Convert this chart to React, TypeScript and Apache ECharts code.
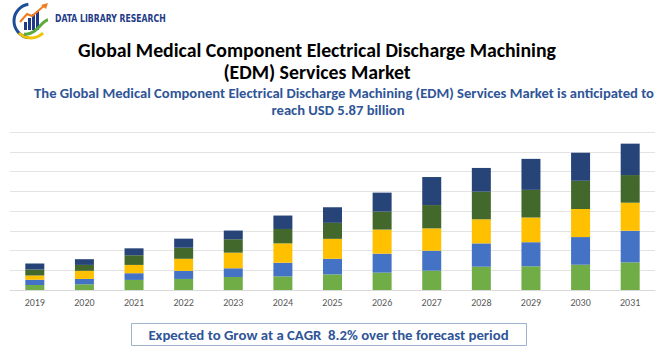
import React, { useEffect, useRef } from "react";
import * as echarts from "echarts";

const years = ["2019","2020","2021","2022","2023","2024","2025","2026","2027","2028","2029","2030","2031"];
const seg1 = [0.25,0.29,0.51,0.56,0.66,0.69,0.79,0.88,0.98,1.18,1.20,1.28,1.40];
const seg2 = [0.27,0.27,0.34,0.41,0.44,0.69,0.79,0.96,1.01,1.18,1.22,1.40,1.60];
const seg3 = [0.22,0.41,0.42,0.61,0.79,0.98,1.01,1.22,1.13,1.22,1.25,1.42,1.42];
const seg4 = [0.30,0.30,0.49,0.56,0.68,0.73,0.81,0.91,1.18,1.40,1.40,1.43,1.40];
const seg5 = [0.30,0.29,0.35,0.46,0.44,0.68,0.79,0.96,1.42,1.20,1.57,1.42,1.59];
const segColors = ["#70AD47","#4472C4","#FFC000","#43682B","#264478"];

const titleLines = ["Global Medical Component Electrical Discharge Machining", "(EDM) Services Market"];
const subtitleLines = ["The Global Medical Component Electrical Discharge Machining (EDM) Services Market is anticipated to", "reach USD 5.87 billion"];
const footerText = "Expected to Grow at a CAGR  8.2% over the forecast period";
const brandText = "DATA LIBRARY RESEARCH";

const FONT = "Carlito, Lato, 'Open Sans', sans-serif";

export default function App() {
  const ref = useRef<HTMLDivElement>(null);
  useEffect(() => {
    if (!ref.current) return;
    const chart = echarts.init(ref.current, null, { renderer: "svg" });
    const segs = [seg1, seg2, seg3, seg4, seg5];
    const series = segs.map((d, i) => ({
      type: "bar",
      stack: "total",
      data: d,
      barWidth: 19,
      itemStyle: { color: segColors[i] },
      emphasis: { disabled: true },
    }));
    chart.setOption({
      animation: false,
      grid: { left: 10, right: 15, top: 132, bottom: 60, containLabel: false },
      xAxis: {
        type: "category",
        data: years,
        axisLine: { show: true, lineStyle: { color: "#D9D9D9", width: 1 } },
        axisTick: { show: false },
        axisLabel: { color: "#595959", fontSize: 10, margin: 7, fontFamily: FONT },
      },
      yAxis: {
        type: "value",
        min: 0,
        max: 8,
        interval: 1,
        axisLabel: { show: false },
        axisLine: { show: false },
        axisTick: { show: false },
        splitLine: { lineStyle: { color: "#E3E3E3", width: 1 } },
      },
      series,
      graphic: [
        // logo
        { type: "arc", shape: { cx: 31, cy: 21, r: 17, startAngle: Math.PI * 0.55, endAngle: Math.PI * 1.45 }, style: { stroke: "#1F4E99", lineWidth: 3, fill: "none" } },
        { type: "arc", shape: { cx: 31, cy: 21, r: 17, startAngle: Math.PI * 0.25, endAngle: Math.PI * 0.75 }, style: { stroke: "#F2C200", lineWidth: 3, fill: "none" } },
        { type: "rect", shape: { x: 24, y: 22, width: 3, height: 8 }, style: { fill: "#1F3C88" } },
        { type: "rect", shape: { x: 28, y: 18, width: 3, height: 12 }, style: { fill: "#1F3C88" } },
        { type: "rect", shape: { x: 32, y: 14, width: 3, height: 16 }, style: { fill: "#1F3C88" } },
        { type: "rect", shape: { x: 36, y: 11, width: 3, height: 19 }, style: { fill: "#1F3C88" } },
        { type: "polyline", shape: { points: [[20, 22], [27, 14], [32, 16], [45, 5]] }, style: { stroke: "#F07C22", lineWidth: 2, fill: "none" } },
        { type: "polygon", shape: { points: [[48, 3], [41, 5], [46, 9]] }, style: { fill: "#F07C22" } },
        { type: "bezierCurve", shape: { x1: 24, y1: 34, x2: 48, y2: 20, cpx1: 36, cpy1: 36, cpx2: 42, cpy2: 20 }, style: { stroke: "#5DAA3C", lineWidth: 3, fill: "none" } },
        { type: "text", x: 55, y: 18.5, scaleX: 0.82, style: { text: brandText, fill: "#1F3C88", font: "bold 10.5px 'DejaVu Sans Condensed', 'DejaVu Sans', sans-serif", align: "left", verticalAlign: "middle" } },
        // titles
        { type: "text", x: 317, y: 50, style: { text: titleLines[0], fill: "#000000", font: `bold 19.8px ${FONT}`, align: "center", verticalAlign: "middle" } },
        { type: "text", x: 317, y: 72, style: { text: titleLines[1], fill: "#000000", font: `bold 19.8px ${FONT}`, align: "center", verticalAlign: "middle" } },
        { type: "text", x: 344, y: 93, style: { text: subtitleLines[0], fill: "#2F5597", font: `bold 14.6px ${FONT}`, align: "center", verticalAlign: "middle" } },
        { type: "text", x: 338, y: 110, style: { text: subtitleLines[1], fill: "#2F5597", font: `bold 14.6px ${FONT}`, align: "center", verticalAlign: "middle" } },
        // footer box
        { type: "rect", shape: { x: 131.5, y: 323.5, width: 395, height: 22 }, style: { fill: "#FFFFFF", stroke: "#9DB3CC", lineWidth: 1 } },
        { type: "text", x: 328.5, y: 335, style: { text: footerText, fill: "#2F5597", font: `bold 14.8px ${FONT}`, align: "center", verticalAlign: "middle" } },
      ],
    });
    return () => chart.dispose();
  }, []);
  return <div ref={ref} style={{ width: 670, height: 350, position: "absolute", left: 0, top: 0 }} />;
}
